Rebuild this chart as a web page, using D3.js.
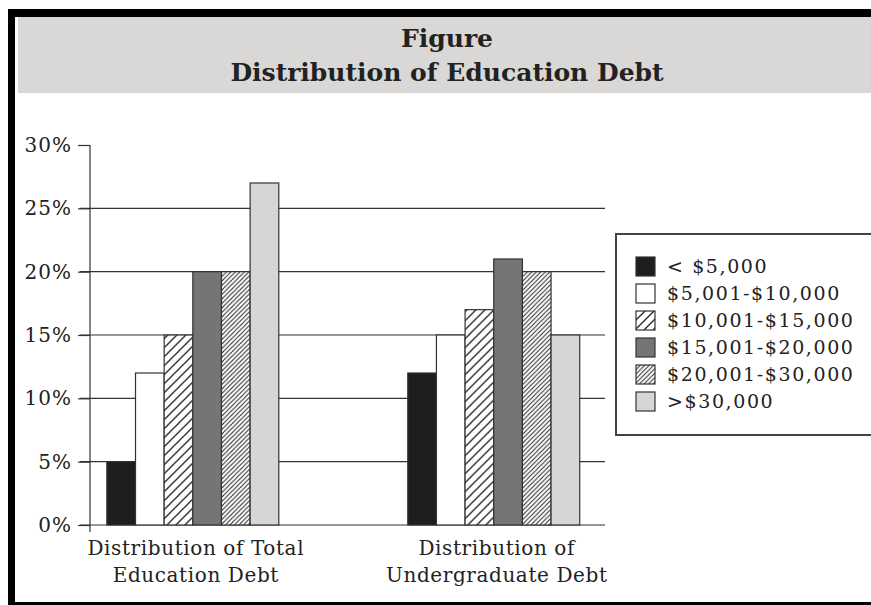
<!DOCTYPE html>
<html>
<head>
<meta charset="utf-8">
<script src="https://cdn.jsdelivr.net/npm/d3@7"></script>
<style>
    body { margin: 0; background: #fff; }
    svg { display: block; }
    text { font-family: 'DejaVu Serif', serif; fill: #222; }
</style>
</head>
<body>
<div id="chart"></div>
<script>
// values
const categories = ['Distribution of Total Education Debt', 'Distribution of Undergraduate Debt'];
const categoryLines = [['Distribution of Total', 'Education Debt'], ['Distribution of', 'Undergraduate Debt']];
const seriesNames = ['< $5,000', '$5,001-$10,000', '$10,001-$15,000', '$15,001-$20,000', '$20,001-$30,000', '>$30,000'];
const totalDebt = [5, 12, 15, 20, 20, 27];
const undergradDebt = [12, 15, 17, 21, 20, 15];
const yTicks = [0, 5, 10, 15, 20, 25, 30];
const titleLines = ['Figure', 'Distribution of Education Debt'];

const fills = ['#1e1e1e', '#ffffff', 'url(#hatchWide)', '#767575', 'url(#hatchFine)', '#d6d6d6'];

const width = 871,
    height = 605;

const svg = d3.select('#chart')
    .append('svg')
    .attr('width', width)
    .attr('height', height);

// hatch patterns
const defs = svg.append('defs');
function makeHatch(id, size, sw) {
    const p = defs.append('pattern')
        .attr('id', id)
        .attr('patternUnits', 'userSpaceOnUse')
        .attr('width', size)
        .attr('height', size);
    p.append('rect').attr('width', size).attr('height', size).attr('fill', '#fff');
    p.append('path')
        .attr('d', `M0,${size} L${size},0 M${-size / 2},${size / 2} L${size / 2},${-size / 2} M${size / 2},${size * 1.5} L${size * 1.5},${size / 2}`)
        .attr('stroke', '#222')
        .attr('stroke-width', sw);
}
makeHatch('hatchWide', 9, 1.3);
makeHatch('hatchFine', 4.5, 1);

// frame and title band
svg.append('rect').attr('x', 8).attr('y', 9).attr('width', 870).attr('height', 8).attr('fill', '#000');
svg.append('rect').attr('x', 8).attr('y', 9).attr('width', 7).attr('height', 597).attr('fill', '#000');
svg.append('rect').attr('x', 8).attr('y', 602).attr('width', 870).attr('height', 4).attr('fill', '#000');
svg.append('rect').attr('x', 18).attr('y', 17).attr('width', 860).attr('height', 76).attr('fill', '#d9d8d6');

svg.selectAll('.title')
    .data(titleLines)
    .enter()
    .append('text')
    .attr('class', 'title')
    .attr('x', 447)
    .attr('y', (d, i) => 47 + i * 34)
    .attr('text-anchor', 'middle')
    .style('font-size', '25px')
    .style('font-weight', 'bold')
    .text(d => d);

// scales
const x0 = d3.scaleBand()
    .domain(categories)
    .range([90, 605])
    .paddingInner(0.4286)
    .paddingOuter(0.07)
    .align(0.4);
const x1 = d3.scaleBand()
    .domain(seriesNames)
    .range([0, x0.bandwidth()]);
const y = d3.scaleLinear()
    .domain([0, 30])
    .range([525, 145]);

// gridlines (behind bars)
svg.selectAll('.grid')
    .data(yTicks.filter(d => d < 30))
    .enter()
    .append('line')
    .attr('x1', 80)
    .attr('x2', 605)
    .attr('y1', d => y(d))
    .attr('y2', d => y(d))
    .attr('stroke', '#333')
    .attr('stroke-width', 1.2);

// bars
const rows = categories.map((c, i) => ({ cat: c, values: i === 0 ? totalDebt : undergradDebt }));
const groups = svg.selectAll('.group')
    .data(rows)
    .enter()
    .append('g')
    .attr('transform', d => `translate(${x0(d.cat)},0)`);
groups.selectAll('rect')
    .data(d => d.values.map((v, i) => ({ name: seriesNames[i], value: v, i: i })))
    .enter()
    .append('rect')
    .attr('x', d => x1(d.name))
    .attr('y', d => y(d.value))
    .attr('width', x1.bandwidth())
    .attr('height', d => y(0) - y(d.value))
    .attr('fill', d => fills[d.i])
    .attr('stroke', '#333')
    .attr('stroke-width', 1.2);

// y axis
const yAxis = d3.axisLeft(y)
    .tickValues(yTicks)
    .tickSize(12)
    .tickPadding(6)
    .tickFormat(d => d + '%');
const ax = svg.append('g')
    .attr('transform', 'translate(90,0)')
    .call(yAxis);
ax.select('.domain').remove();
ax.selectAll('line').attr('stroke', '#333').attr('stroke-width', 1.2);
ax.selectAll('text')
    .style('font-size', '20px')
    .style('letter-spacing', '1px')
    .style('font-family', "'DejaVu Serif', serif")
    .attr('fill', '#222');
svg.append('line')
    .attr('x1', 90).attr('x2', 90)
    .attr('y1', y(30)).attr('y2', y(0) + 7)
    .attr('stroke', '#333')
    .attr('stroke-width', 1.2);

// category labels
categories.forEach((c, i) => {
    const cx = x0(c) + x0.bandwidth() / 2 + 3;
    svg.append('text')
        .attr('text-anchor', 'middle')
        .style('font-size', '20px')
        .style('letter-spacing', '0.6px')
        .selectAll('tspan')
        .data(categoryLines[i])
        .enter()
        .append('tspan')
        .attr('x', cx)
        .attr('y', (d, j) => 555 + j * 27)
        .text(d => d);
});

// legend
svg.append('rect')
    .attr('x', 616).attr('y', 234)
    .attr('width', 270).attr('height', 201)
    .attr('fill', '#fff')
    .attr('stroke', '#444')
    .attr('stroke-width', 2);
const leg = svg.selectAll('.leg')
    .data(seriesNames)
    .enter()
    .append('g')
    .attr('transform', (d, i) => `translate(636,${257 + i * 27})`);
leg.append('rect')
    .attr('width', 19)
    .attr('height', 19)
    .attr('fill', (d, i) => fills[i])
    .attr('stroke', '#333')
    .attr('stroke-width', 1.2);
leg.append('text')
    .attr('x', 31)
    .attr('y', 16)
    .style('font-size', '19px')
    .style('letter-spacing', '1.6px')
    .text(d => d);
</script>
</body>
</html>
